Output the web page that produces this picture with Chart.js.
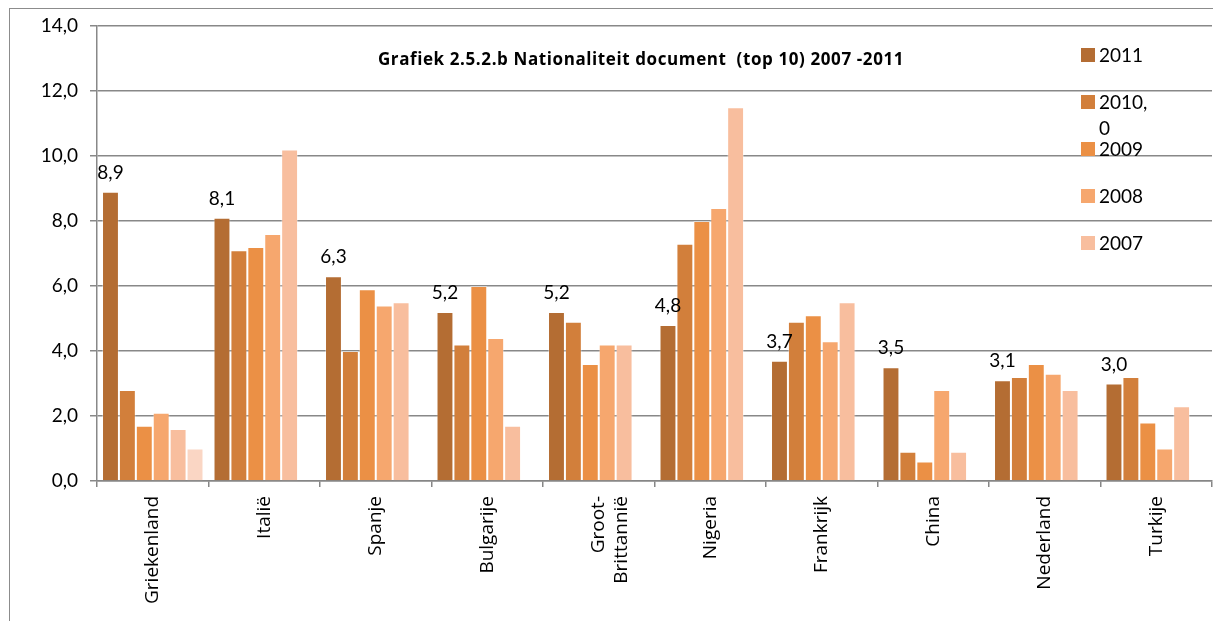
<!DOCTYPE html>
<html>
<head>
<meta charset="utf-8">
<title>Grafiek 2.5.2.b</title>
<script src="https://cdn.jsdelivr.net/npm/chart.js@4.4.0/dist/chart.umd.min.js"></script>
<style>
  html, body { margin: 0; padding: 0; background: #fff; overflow: hidden; }
  #wrap { position: relative; width: 1213px; height: 621px; }
  #frame { position: absolute; left: 9px; top: 8px; width: 1220px; height: 640px;
           border-left: 1.5px solid #8c8c8c; border-top: 1.5px solid #8c8c8c; }
  canvas { position: absolute; left: 0; top: 0; }
</style>
</head>
<body>
<div id="wrap">
  <div id="frame"></div>
  <canvas id="grafiek"></canvas>
</div>
<script>
// Nationaliteit document (top 10), percentages per jaar
const landen = ['Griekenland', 'Italië', 'Spanje', 'Bulgarije', ['Groot-', 'Brittannië'],
                'Nigeria', 'Frankrijk', 'China', 'Nederland', 'Turkije'];

const jaar2011 = [8.9, 8.1, 6.3, 5.2, 5.2, 4.8, 3.7, 3.5, 3.1, 3.0];
const jaar2010 = [2.8, 7.1, 4.0, 4.2, 4.9, 7.3, 4.9, 0.9, 3.2, 3.2];
const jaar2009 = [1.7, 7.2, 5.9, 6.0, 3.6, 8.0, 5.1, 0.6, 3.6, 1.8];
const jaar2008 = [2.1, 7.6, 5.4, 4.4, 4.2, 8.4, 4.3, 2.8, 3.3, 1.0];
const jaar2007 = [1.6, 10.2, 5.5, 1.7, 4.2, 11.5, 5.5, 0.9, 2.8, 2.3];
// losse extra balk die alleen bij Griekenland staat (zonder legenda)
const extra = [1.0, null, null, null, null, null, null, null, null, null];

const kleuren = ['#b46d33', '#d27f3b', '#eb9045', '#f6a76e', '#f8be9e', '#fad6c4'];
const legendaLabels = [['2011'], ['2010,', '0'], ['2009'], ['2008'], ['2007']];

const fmt = v => v.toFixed(1).replace('.', ',');
const CIJFERS = 'Lato, "Open Sans", sans-serif';
const TEKST = '"Open Sans", Lato, sans-serif';

const waardeLabels = {
  id: 'waardeLabels',
  afterDatasetsDraw(chart) {
    const ctx = chart.ctx;
    const meta = chart.getDatasetMeta(0);
    ctx.save();
    ctx.font = '19px ' + CIJFERS;
    ctx.fillStyle = '#000';
    ctx.textAlign = 'center';
    ctx.textBaseline = 'alphabetic';
    meta.data.forEach((bar, i) => {
      ctx.fillText(fmt(jaar2011[i]), bar.x, bar.y - 13);
    });
    ctx.restore();
  }
};

const titelEnLegenda = {
  id: 'titelEnLegenda',
  afterDraw(chart) {
    const ctx = chart.ctx;
    ctx.save();
    ctx.fillStyle = '#000';
    ctx.font = 'bold 17px ' + TEKST;
    ctx.letterSpacing = '0.6px';
    ctx.textAlign = 'center';
    ctx.textBaseline = 'middle';
    ctx.fillText('Grafiek 2.5.2.b Nationaliteit document  (top 10) 2007 -2011', 641, 60);
    ctx.letterSpacing = '0px';

    ctx.font = '19px ' + CIJFERS;
    ctx.textAlign = 'left';
    legendaLabels.forEach((regels, i) => {
      const y = 55 + i * 47;
      ctx.fillStyle = kleuren[i];
      ctx.fillRect(1081, y - 7, 14, 14);
      ctx.fillStyle = '#000';
      regels.forEach((t, j) => ctx.fillText(t, 1099, y + 1 + j * 26));
    });
    ctx.restore();
  }
};

const reeksen = [jaar2011, jaar2010, jaar2009, jaar2008, jaar2007, extra];
const namen = ['2011', '2010, 0', '2009', '2008', '2007', ''];

function teken() {
  new Chart(document.getElementById('grafiek'), {
    type: 'bar',
    data: {
      labels: landen,
      datasets: reeksen.map((data, i) => ({
        label: namen[i],
        data,
        backgroundColor: kleuren[i],
        borderColor: 'rgba(255,255,255,0.35)',
        borderWidth: { left: 1, right: 1, top: 1 },
        categoryPercentage: 0.91,
        barPercentage: 1.0
      }))
    },
    options: {
      responsive: true,
      maintainAspectRatio: false,
      animation: false,
      layout: { padding: { top: 26, right: 1, left: 0, bottom: 0 } },
      plugins: {
        legend: { display: false },
        title: { display: false },
        tooltip: { enabled: false }
      },
      scales: {
        x: {
          grid: { drawOnChartArea: false, offset: true, tickLength: 6, color: '#868686', lineWidth: 1.5 },
          border: { color: '#868686', width: 1.5 },
          ticks: { minRotation: 90, maxRotation: 90, color: '#000', padding: 9, font: { family: TEKST, size: 19 } },
          afterFit: s => { s.height = 140; }
        },
        y: {
          min: 0,
          max: 14,
          ticks: { stepSize: 2, color: '#000', padding: 12, font: { family: CIJFERS, size: 19 }, callback: v => fmt(v) },
          grid: { color: '#888', lineWidth: 1.5, tickLength: 7 },
          border: { color: '#888', width: 1.5 },
          afterFit: s => { s.width = 97; }
        }
      }
    },
    plugins: [waardeLabels, titelEnLegenda]
  });
}

// lokale fonts eerst laden, anders tekent canvas met een ander font
Promise.all([
  document.fonts.load('19px "Open Sans"'),
  document.fonts.load('bold 17px "Open Sans"'),
  document.fonts.load('19px Lato')
]).then(teken, teken);
</script>
</body>
</html>
